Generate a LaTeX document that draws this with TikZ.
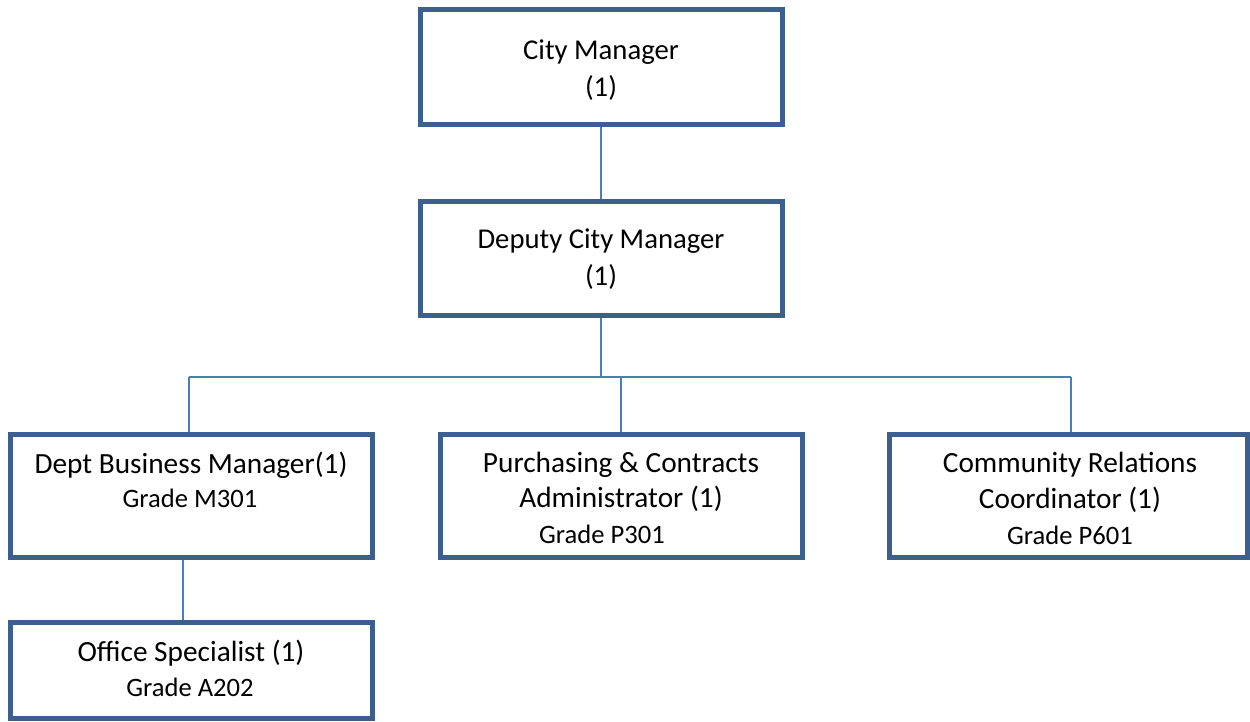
\documentclass[tikz,border=0pt]{standalone}
\usepackage{fontspec}
\setmainfont{Carlito}
\definecolor{boxblue}{HTML}{3C5F8E}
\definecolor{lineblue}{HTML}{4A7EBB}
\tikzset{
  x=1pt, y=-1pt,
  orgbox/.style={draw=boxblue, line width=5pt, fill=white, rectangle, inner sep=0pt},
  conn/.style={draw=lineblue, line width=1.5pt},
  big/.style={font=\fontsize{28.7}{36}\selectfont, align=center, inner sep=0pt},
  mid/.style={font=\fontsize{29.3}{36}\selectfont, align=center, inner sep=0pt},
  small/.style={font=\fontsize{26.6}{32}\selectfont, align=center, inner sep=0pt},
}
\begin{document}
\begin{tikzpicture}
\useasboundingbox (0,0) rectangle (1250,722);
% boxes
\node[orgbox, minimum width=362pt, minimum height=115pt] (cm) at (601,67.5) {};
\node[orgbox, minimum width=362pt, minimum height=113pt] (dcm) at (601,258.5) {};
\node[orgbox, minimum width=362pt, minimum height=123pt] (dbm) at (191,495.5) {};
\node[orgbox, minimum width=362pt, minimum height=123pt] (pca) at (621,495.5) {};
\node[orgbox, minimum width=358pt, minimum height=123pt] (crc) at (1068,495.5) {};
\node[orgbox, minimum width=362pt, minimum height=96pt] (os) at (191,670) {};
% connectors
\coordinate (j) at (601,377);
\coordinate (jl) at (189,377);
\coordinate (jm) at (621,377);
\coordinate (jr) at (1071,377);
\draw[conn] (cm.south) -- (dcm.north);
\draw[conn] (dcm.south) -- (j);
\draw[conn] (jl) -- (jr);
\draw[conn] (jl) -- (jl |- dbm.north);
\draw[conn] (jm) -- (jm |- pca.north);
\draw[conn] (jr) -- (jr |- crc.north);
\draw[conn] (183,560) coordinate (d1) -- (d1 |- os.north);
% texts
\node[big] (t1) at (601,52) {City Manager};
\node[big] (t2) at (601,88) {(1)};
\node[big] (t3) at (601,241) {Deputy City Manager};
\node[big] (t4) at (601,277) {(1)};
\node[mid] (t5) at (191,465) {Dept Business Manager(1)};
\node[small] (t6) at (190,498) {Grade M301};
\node[mid] (t7) at (621,465) {Purchasing \& Contracts};
\node[mid] (t8) at (621,499) {Administrator (1)};
\node[small] (t9) at (602,534) {Grade P301};
\node[mid] (t10) at (1070,465) {Community Relations};
\node[mid] (t11) at (1070,500) {Coordinator (1)};
\node[small] (t12) at (1070,535) {Grade P601};
\node[mid] (t13) at (191,653) {Office Specialist (1)};
\node[small] (t14) at (190,687) {Grade A202};
\end{tikzpicture}
\end{document}
